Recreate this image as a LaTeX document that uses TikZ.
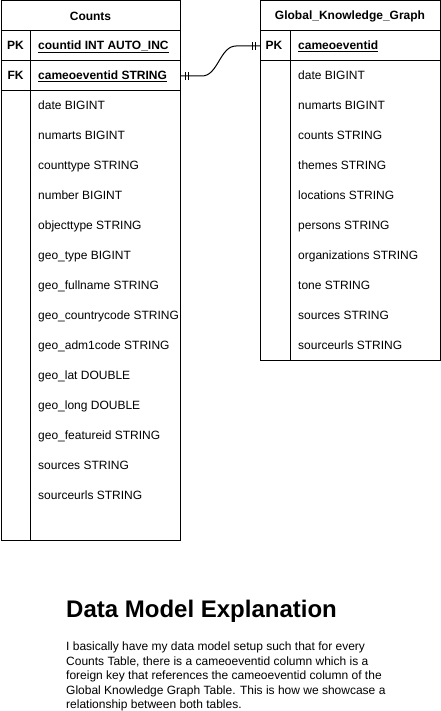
\documentclass[tikz,border=0pt]{standalone}
\usepackage{fontspec}
\setmainfont{Liberation Sans}
\usetikzlibrary{positioning, calc}

\tikzset{
  tabcell/.style={draw, line width=1pt, inner sep=0pt, outer sep=0pt, minimum height=30pt},
  tabhead/.style={tabcell, font=\bfseries\fontsize{12}{14}\selectfont},
  keytag/.style={font=\bfseries\fontsize{12}{14}\selectfont, inner sep=0pt, text height=9pt, text depth=2.5pt},
  keyfield/.style={keytag, anchor=west},
  field/.style={anchor=west, font=\fontsize{12}{14}\selectfont, inner sep=0pt, text height=9pt, text depth=2.5pt},
}

\begin{document}
\begin{tikzpicture}[x=1pt, y=1pt]
    \useasboundingbox (0,0) rectangle (441,-711);

    % Counts table
    \node[tabhead, minimum width=179pt] (counts) at (90.5,-16) {Counts};
    \node[tabcell, minimum width=179pt, below=0pt of counts] (countspk) {};
    \node[tabcell, minimum width=179pt, below=0pt of countspk] (countsfk) {};
    \node[tabcell, minimum width=179pt, minimum height=449pt, below=0pt of countsfk] (countsbody) {};
    \draw[line width=1pt] ([xshift=29pt]countspk.north west) -- ([xshift=29pt]countsbody.south west);

    \node[keytag] at ([xshift=14.5pt]countspk.west) {PK};
    \node[keyfield] at ([xshift=37pt]countspk.west) {\underline{countid INT AUTO\_INC}};
    \node[keytag] at ([xshift=14.5pt]countsfk.west) {FK};
    \node[keyfield] at ([xshift=37pt]countsfk.west) {\underline{cameoeventid STRING}};
    \foreach \f [count=\i] in {date BIGINT, numarts BIGINT, counttype STRING, number BIGINT,
        objecttype STRING, geo\_type BIGINT, geo\_fullname STRING, geo\_countrycode STRING,
        geo\_adm1code STRING, geo\_lat DOUBLE, geo\_long DOUBLE, geo\_featureid STRING,
        sources STRING, sourceurls STRING}
      \node[field] at ([xshift=37pt, yshift=-\i*30pt+15pt]countsbody.north west) {\f};

    % Global_Knowledge_Graph table
    \node[tabhead, minimum width=180pt] (gkg) at (350,-16) {Global\_Knowledge\_Graph};
    \node[tabcell, minimum width=180pt, below=0pt of gkg] (gkgpk) {};
    \node[tabcell, minimum width=180pt, minimum height=299pt, below=0pt of gkgpk] (gkgbody) {};
    \draw[line width=1pt] ([xshift=30pt]gkgpk.north west) -- ([xshift=30pt]gkgbody.south west);

    \node[keytag] at ([xshift=14pt]gkgpk.west) {PK};
    \node[keyfield] at ([xshift=38pt]gkgpk.west) {\underline{cameoeventid}};
    \foreach \f [count=\i] in {date BIGINT, numarts BIGINT, counts STRING, themes STRING,
        locations STRING, persons STRING, organizations STRING, tone STRING,
        sources STRING, sourceurls STRING}
      \node[field] at ([xshift=38pt, yshift=-\i*30pt+15pt]gkgbody.north west) {\f};

    % One-to-one relationship
    \draw[line width=1pt] (countsfk.east) -- ++(22,0)
        .. controls +(16,0) and +(-16,0) .. ($(gkgpk.west)+(-24,0)$) -- (gkgpk.west);
    \foreach \d in {5,8} {
      \draw[line width=1pt] ([xshift=\d pt]countsfk.east) ++(0,-4) -- ++(0,8);
      \draw[line width=1pt] ([xshift=-\d pt]gkgpk.west) ++(0,-4) -- ++(0,8);
    }

    % Explanation
    \node[anchor=base west, inner sep=0pt, font=\bfseries\fontsize{24}{28}\selectfont] (heading) at (66,-617) {Data Model Explanation};
    \node[anchor=north west, align=left, inner sep=0pt, font=\fontsize{12}{14.4}\selectfont] (explain) at (66,-642)
        {I basically have my data model setup such that for every\\
         Counts Table, there is a cameoeventid column which is a\\
         foreign key that references the cameoeventid column of the\\
         Global Knowledge Graph Table. This is how we showcase a\\
         relationship between both tables.};
\end{tikzpicture}
\end{document}
